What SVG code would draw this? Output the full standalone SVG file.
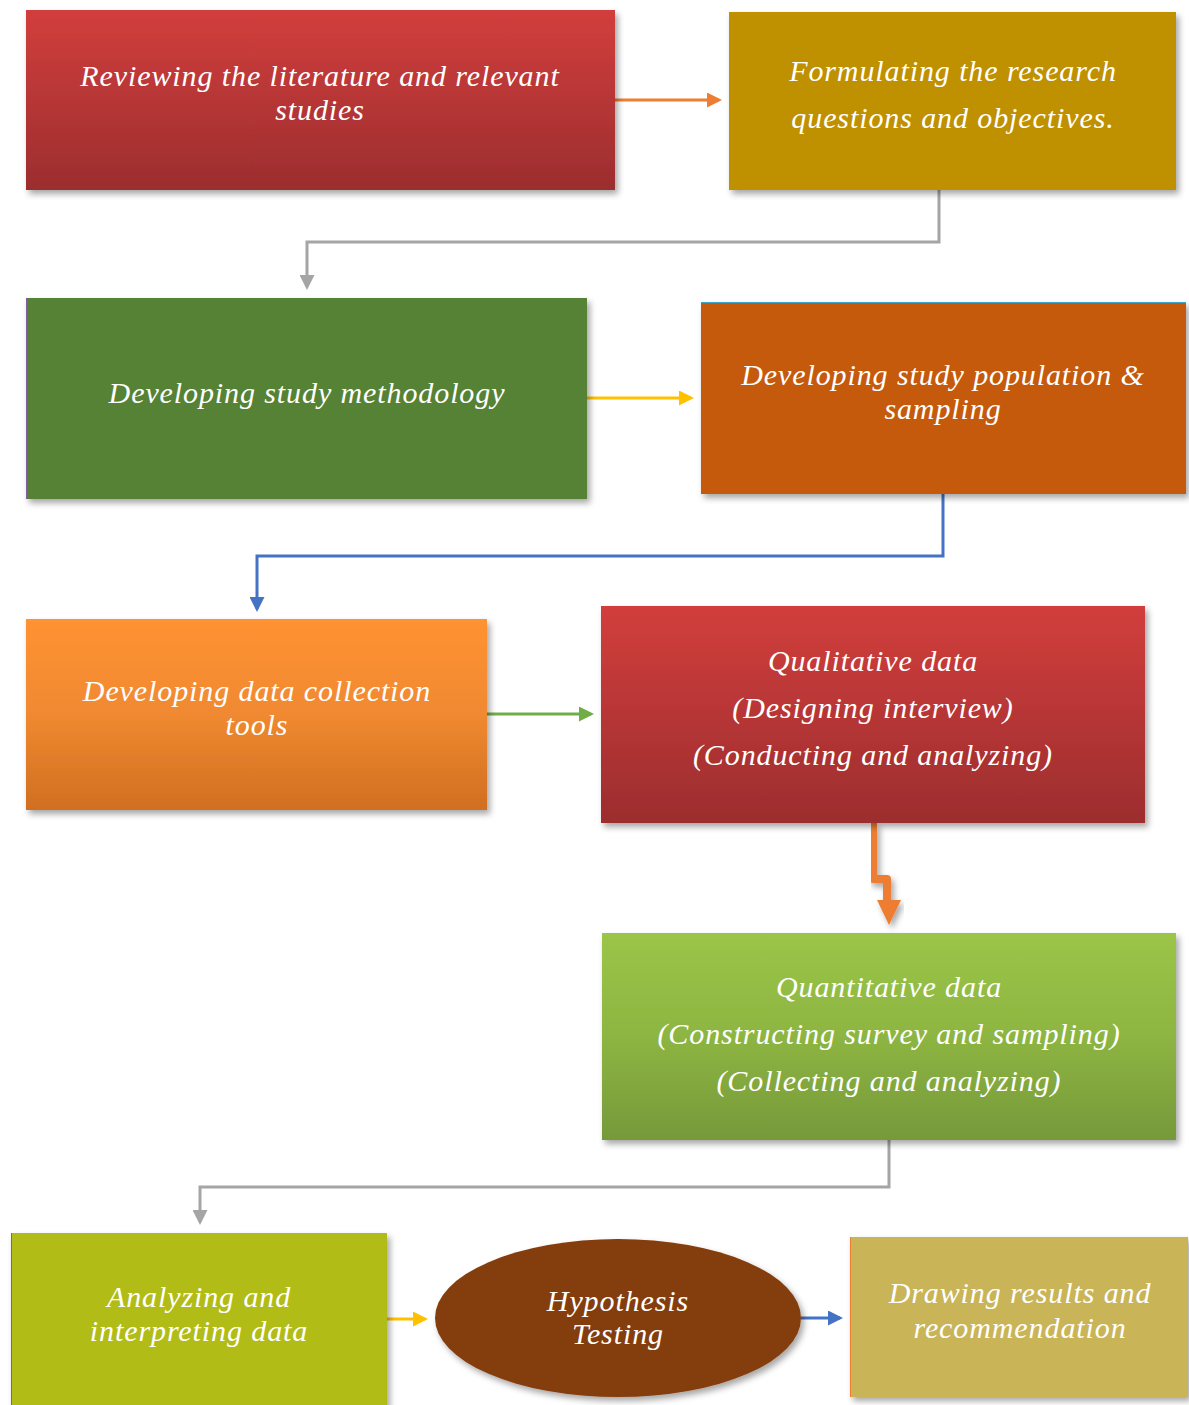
<svg xmlns="http://www.w3.org/2000/svg" width="1189" height="1405" viewBox="0 0 1189 1405">
<defs>
<filter id="sh" x="-5%" y="-5%" width="115%" height="120%">
<feDropShadow dx="3" dy="4" stdDeviation="3" flood-color="#000" flood-opacity="0.35"/>
</filter>
<linearGradient id="gRed" x1="0" y1="0" x2="0" y2="1">
<stop offset="0" stop-color="#D23E3C"/><stop offset="0.5" stop-color="#B73636"/><stop offset="1" stop-color="#9C2D2E"/>
</linearGradient>
<linearGradient id="gOr" x1="0" y1="0" x2="0" y2="1">
<stop offset="0" stop-color="#FF9233"/><stop offset="0.5" stop-color="#F08930"/><stop offset="1" stop-color="#D06F22"/>
</linearGradient>
<linearGradient id="gLg" x1="0" y1="0" x2="0" y2="1">
<stop offset="0" stop-color="#9BC547"/><stop offset="0.5" stop-color="#8DB542"/><stop offset="1" stop-color="#76993A"/>
</linearGradient>
<marker id="aOr" markerWidth="5" markerHeight="5" refX="4" refY="2.5" orient="auto" markerUnits="strokeWidth"><path d="M0,0 L5,2.5 L0,5 z" fill="#ED7D31"/></marker>
<marker id="aGr" markerWidth="5" markerHeight="5" refX="4" refY="2.5" orient="auto" markerUnits="strokeWidth"><path d="M0,0 L5,2.5 L0,5 z" fill="#A5A5A5"/></marker>
<marker id="aYe" markerWidth="5" markerHeight="5" refX="4" refY="2.5" orient="auto" markerUnits="strokeWidth"><path d="M0,0 L5,2.5 L0,5 z" fill="#FFC000"/></marker>
<marker id="aBl" markerWidth="5" markerHeight="5" refX="4" refY="2.5" orient="auto" markerUnits="strokeWidth"><path d="M0,0 L5,2.5 L0,5 z" fill="#4472C4"/></marker>
<marker id="aGn" markerWidth="5" markerHeight="5" refX="4" refY="2.5" orient="auto" markerUnits="strokeWidth"><path d="M0,0 L5,2.5 L0,5 z" fill="#70AD47"/></marker>
</defs>
<style>
text{font-family:"Liberation Serif","Times New Roman",serif;font-style:italic;fill:#fff;text-anchor:middle;font-size:30px;letter-spacing:0.9px;}
.c{fill:none;stroke-width:3;}
</style>
<rect width="1189" height="1405" fill="#fff"/>

<g id="connectors">
<line class="c" x1="615" y1="100" x2="719" y2="100" stroke="#ED7D31" marker-end="url(#aOr)"/>
<polyline class="c" points="939,190 939,242 307,242 307,287" stroke="#A5A5A5" marker-end="url(#aGr)"/>
<line class="c" x1="587" y1="398" x2="691" y2="398" stroke="#FFC000" marker-end="url(#aYe)"/>
<polyline class="c" points="943,494 943,556 257,556 257,609" stroke="#4472C4" marker-end="url(#aBl)"/>
<line class="c" x1="487" y1="714" x2="591" y2="714" stroke="#70AD47" marker-end="url(#aGn)"/>
<g filter="url(#sh)">
<polyline points="873,823 873,879 887,879 887,903" fill="none" stroke="#ED7D31" stroke-width="8" stroke-linejoin="round"/>
<path d="M877,900 L901,900 L889,925 z" fill="#ED7D31"/>
</g>
<polyline class="c" points="889,1140 889,1187 200,1187 200,1222" stroke="#A5A5A5" marker-end="url(#aGr)"/>
<line class="c" x1="387" y1="1319" x2="425" y2="1319" stroke="#FFC000" marker-end="url(#aYe)"/>
<line class="c" x1="801" y1="1318" x2="840" y2="1318" stroke="#4472C4" marker-end="url(#aBl)"/>
</g>

<g id="n1"><rect x="26" y="10" width="589" height="180" fill="url(#gRed)" filter="url(#sh)"/>
<text x="320" y="86">Reviewing the literature and relevant</text><text x="320" y="120">studies</text></g>

<g id="n2"><rect x="729" y="12" width="447" height="178" fill="#BF9000" filter="url(#sh)"/>
<text x="953" y="81">Formulating the research</text><text x="953" y="128">questions and objectives.</text></g>

<g id="n3"><rect x="26" y="298" width="561" height="201" fill="#548235" filter="url(#sh)"/>
<line x1="26.5" y1="298" x2="26.5" y2="499" stroke="#7F5FA0" stroke-width="1"/>
<text x="307" y="403">Developing study methodology</text></g>

<g id="n4"><rect x="701" y="302" width="485" height="192" fill="#C55A11" filter="url(#sh)"/>
<line x1="701" y1="302.5" x2="1186" y2="302.5" stroke="#3AA7D0" stroke-width="1"/>
<text x="943" y="385">Developing study population &amp;</text><text x="943" y="419">sampling</text></g>

<g id="n5"><rect x="26" y="619" width="461" height="191" fill="url(#gOr)" filter="url(#sh)"/>
<text x="257" y="701">Developing data collection</text><text x="257" y="735">tools</text></g>

<g id="n6"><rect x="601" y="606" width="544" height="217" fill="url(#gRed)" filter="url(#sh)"/>
<text x="873" y="671">Qualitative data</text><text x="873" y="718">(Designing interview)</text><text x="873" y="765">(Conducting and analyzing)</text></g>

<g id="n7"><rect x="602" y="933" width="574" height="207" fill="url(#gLg)" filter="url(#sh)"/>
<text x="889" y="997">Quantitative data</text><text x="889" y="1044">(Constructing survey and sampling)</text><text x="889" y="1091">(Collecting and analyzing)</text></g>

<g id="n8"><rect x="11" y="1233" width="376" height="175" fill="#B1BC14" filter="url(#sh)"/>
<line x1="11.5" y1="1233" x2="11.5" y2="1405" stroke="#7F5FA0" stroke-width="1"/>
<text x="199" y="1307">Analyzing and</text><text x="199" y="1341">interpreting data</text></g>

<g id="n9"><ellipse cx="618" cy="1318" rx="183" ry="79" fill="#843C0C" filter="url(#sh)"/>
<text x="618" y="1311">Hypothesis</text><text x="618" y="1344">Testing</text></g>

<g id="n10"><rect x="850" y="1237" width="338" height="160" fill="#C9B458" filter="url(#sh)"/>
<line x1="850.5" y1="1237" x2="850.5" y2="1397" stroke="#ED7D31" stroke-width="1"/>
<text x="1020" y="1303">Drawing results and</text><text x="1020" y="1338">recommendation</text></g>
</svg>
